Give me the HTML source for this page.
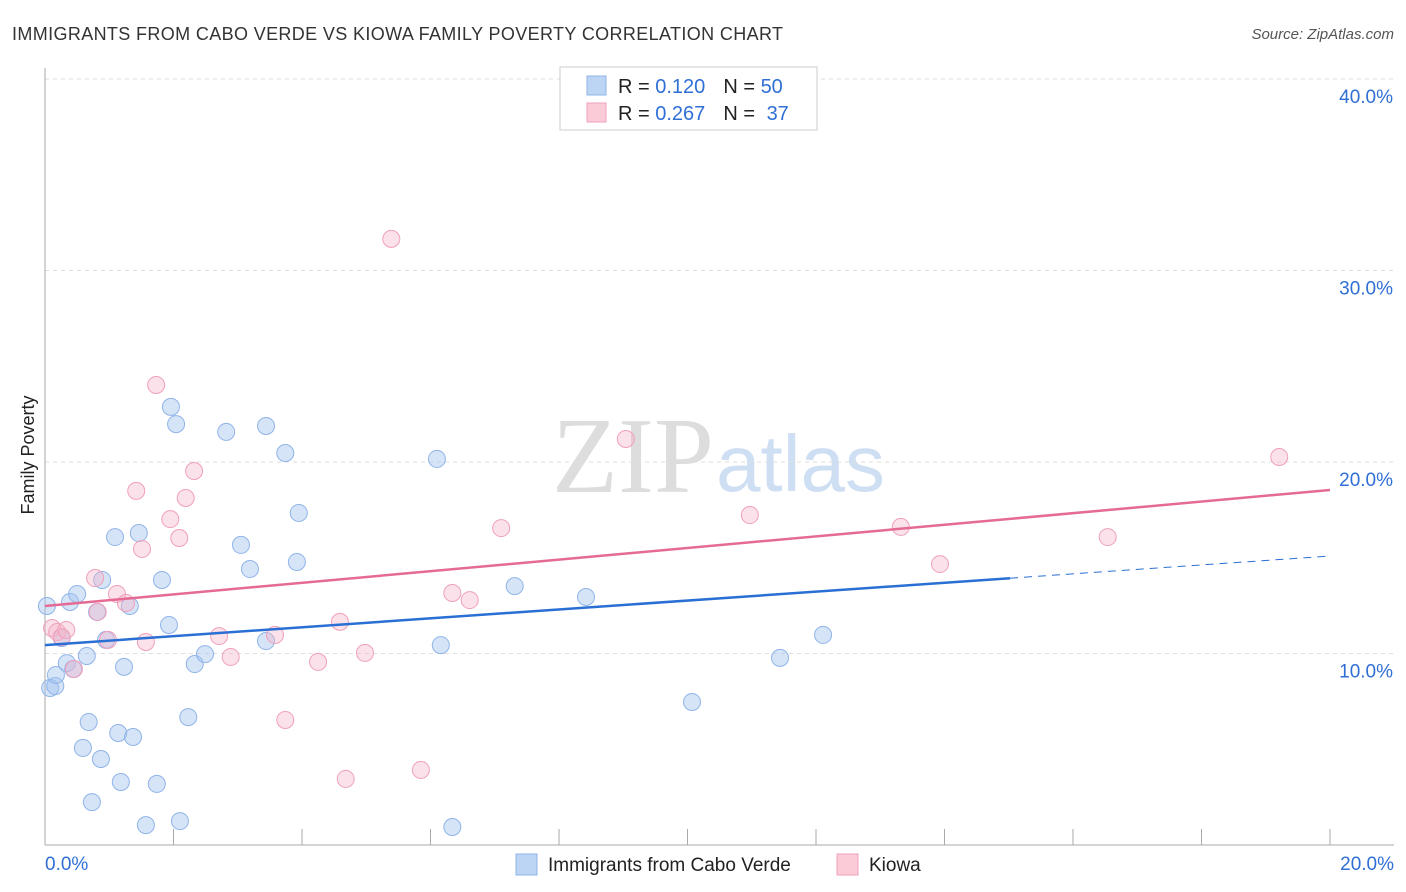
<!DOCTYPE html>
<html><head><meta charset="utf-8"><style>
body{margin:0;background:#fff;font-family:"Liberation Sans",sans-serif;}
#wrap{position:relative;width:1406px;height:892px;overflow:hidden;}
</style></head><body>
<div id="wrap">
<svg id="svg" width="1406" height="892">
<text x="12" y="40" font-size="18" fill="#333" textLength="771" lengthAdjust="spacing">IMMIGRANTS FROM CABO VERDE VS KIOWA FAMILY POVERTY CORRELATION CHART</text>
<text x="1394" y="39" font-size="15" fill="#555" font-style="italic" text-anchor="end">Source: ZipAtlas.com</text>
<text transform="translate(34,455) rotate(-90)" font-size="18" fill="#222" text-anchor="middle">Family Poverty</text>
<text x="714" y="492" font-size="108" font-family="Liberation Serif,serif" fill="#ddd" text-anchor="end">ZIP</text>
<text x="716" y="491" font-size="80" fill="#cfdff3">atlas</text>
<g id="grid"></g><g id="marks"></g>
<g>
<rect x="560" y="67" width="257" height="63" fill="#fff" stroke="#ccc"/>
<rect x="587" y="76" width="19" height="19" fill="#bcd5f5" stroke="#8fb4e8"/>
<rect x="587" y="103" width="19" height="19" fill="#fbcbd8" stroke="#f0a0bb"/>
<text x="618" y="93" font-size="20" fill="#222">R = <tspan fill="#2f6fd6">0.120</tspan><tspan dx="18">N = </tspan><tspan fill="#2f6fd6">50</tspan></text>
<text x="618" y="120" font-size="20" fill="#222">R = <tspan fill="#2f6fd6">0.267</tspan><tspan dx="18">N = </tspan><tspan dx="6" fill="#2f6fd6">37</tspan></text>
</g>
<g>
<rect x="516" y="854" width="21" height="21" fill="#bcd5f5" stroke="#8fb4e8"/>
<text x="548" y="871" font-size="19" fill="#222">Immigrants from Cabo Verde</text>
<rect x="837" y="854" width="21" height="21" fill="#fbcbd8" stroke="#f0a0bb"/>
<text x="869" y="871" font-size="19" fill="#222">Kiowa</text>
</g>
</svg></div>
<script>
const yTicks=[10,20,30,40];
const yTickLabels=["10.0%","20.0%","30.0%","40.0%"];
const xTickLabels=["0.0%","20.0%"];
const blueX=[0.03,0.08,0.16,0.17,0.26,0.39,0.34,0.50,0.44,0.65,0.59,0.68,0.73,0.81,0.87,0.89,0.95,1.09,1.14,1.18,1.23,1.32,1.37,1.46,1.57,1.74,1.82,1.93,1.96,2.04,2.10,2.23,2.33,2.49,2.82,3.05,3.19,3.44,3.44,3.74,3.92,3.95,6.10,6.16,6.34,7.31,8.42,10.07,11.44,12.11];
const blueY=[12.48,8.20,8.30,8.88,10.81,12.69,9.50,13.11,9.19,9.87,5.07,6.42,2.24,12.17,4.49,13.84,10.71,16.08,5.85,3.29,9.30,12.48,5.64,16.29,1.04,3.19,13.84,11.49,22.88,21.98,1.25,6.68,9.45,9.97,21.57,15.67,14.41,21.88,10.65,20.47,14.78,17.34,20.16,10.44,0.94,13.52,12.95,7.47,9.77,10.97];
const pinkX=[0.11,0.19,0.26,0.33,0.45,0.78,0.82,0.98,1.12,1.26,1.51,1.42,1.57,1.73,1.95,2.09,2.19,2.32,2.71,2.89,3.58,3.74,4.25,4.59,4.68,4.98,5.39,5.85,6.34,6.61,7.10,9.04,10.97,13.32,13.93,16.54,19.21];
const pinkY=[11.33,11.12,10.86,11.23,9.19,13.94,12.17,10.71,13.11,12.64,15.46,18.49,10.60,24.02,17.02,16.03,18.12,19.53,10.91,9.82,10.97,6.53,9.56,11.65,3.45,10.03,31.65,3.92,13.16,12.79,16.55,21.20,17.23,16.61,14.67,16.08,20.26];
const blueTrend=[10.44,15.09];
const pinkTrend=[12.48,18.54];
const NS="http://www.w3.org/2000/svg";
const X=v=>45+v/20*1285, Y=v=>845-v*19.15;
function mk(t,a,p){const e=document.createElementNS(NS,t);for(const k in a)e.setAttribute(k,a[k]);p.appendChild(e);return e;}
const g=document.getElementById('grid'),m=document.getElementById('marks');
yTicks.forEach((t,i)=>{
 const l=mk('line',{x1:45,x2:1394,y1:Y(t),y2:Y(t),stroke:'#ddd','stroke-dasharray':'4,4'},g);
 
 
 const tx=mk('text',{x:1393,y:Y(t)+24,'font-size':19,fill:'#2f6fd6','text-anchor':'end'},g);tx.textContent=yTickLabels[i];
 
 
});
const ax=mk('line',{x1:45,x2:45,y1:68,y2:845,stroke:'#aaa'},g);


const bx=mk('line',{x1:45,x2:1394,y1:845,y2:845,stroke:'#aaa'},g);


for(let i=0;i<=10;i++){const t=mk('line',{x1:X(i*2),x2:X(i*2),y1:829,y2:845,stroke:'#aaa'},g);
 
 }
[[0,'start',45],[20,'end',1394]].forEach((d,i)=>{const t=mk('text',{x:d[2],y:870,'font-size':19,fill:'#2f6fd6','text-anchor':d[1]},g);t.textContent=xTickLabels[i];
 
 });
blueX.forEach((x,i)=>{const c=mk('circle',{cx:X(x),cy:Y(blueY[i]),r:8.5,fill:'rgba(164,196,240,0.45)',stroke:'#8fb4e8','stroke-width':1},m);
 
 });
pinkX.forEach((x,i)=>{const c=mk('circle',{cx:X(x),cy:Y(pinkY[i]),r:8.5,fill:'rgba(246,180,200,0.4)',stroke:'#f0a0bb','stroke-width':1},m);
 
 });
const bEnd=15.02, bAt=blueTrend[0]+(blueTrend[1]-blueTrend[0])*bEnd/20;
const t1=mk('line',{x1:X(0),y1:Y(blueTrend[0]),x2:X(bEnd),y2:Y(bAt),stroke:'#2a6fd4','stroke-width':2.5},m);


const t2=mk('line',{x1:X(bEnd),y1:Y(bAt),x2:X(20),y2:Y(blueTrend[1]),stroke:'#2a6fd4','stroke-width':1,'stroke-dasharray':'8,6'},m);


const t3=mk('line',{x1:X(0),y1:Y(pinkTrend[0]),x2:X(20),y2:Y(pinkTrend[1]),stroke:'#e56a94','stroke-width':2.5},m);


</script>
</body></html>
